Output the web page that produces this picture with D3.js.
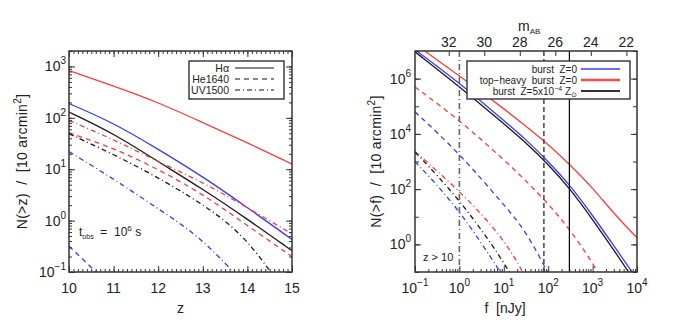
<!DOCTYPE html>
<html>
<head>
<meta charset="utf-8">
<script src="https://cdn.jsdelivr.net/npm/d3@7"></script>
<style>
body { margin: 0; background: #fff; }
svg text { font-family: "Liberation Sans", Arial, sans-serif; fill: #222; white-space: pre; }
</style>
</head>
<body>
<div id="chart"></div>
<script>
// ---- left panel: N(>z) for the three lines ----
var redshifts = [10, 11, 12, 13, 14, 15];
var zHaTop    = [830, 417, 200, 81, 33, 12.6];
var zHaBurst  = [190, 80, 24.5, 7.2, 1.8, 0.43];
var zHaMetal  = [130, 50, 14, 4.1, 1.07, 0.26];
var zHeTop    = [51, 26, 10, 3.3, 0.8, 0.2];
var zHeBurst  = [0.32, 0.047, null, null, null, null];
var zUvTop    = [89, 38, 14, 5.6, 1.8, 0.55];
var zUvMetal  = [49, 19.5, 6.9, 2.1, 0.48, 0.025];
var zUvBurst  = [22, 6.5, 1.7, 0.45, 0.05, null];

// ---- right panel: N(>f) at z > 10 ----
var fluxes    = [0.1, 1, 10, 30, 100, 300, 1000, 3000, 10000];
var fHaTop    = [1.8e7, 1.26e6, 8.3e4, 2.0e4, 4200, 800, 112, 13.2, 1.74];
var fHaBurst  = [1.12e7, 7.1e5, 3.0e4, 6800, 1000, 151, 11.2, 0.89, 0.056];
var fHaMetal  = [9.3e6, 5.2e5, 2.34e4, 5200, 790, 112, 7.9, 0.63, 0.035];
var fHeTop    = [5.0e5, 3.2e4, 1170, 219, 29.5, 3.7, 0.22, 0.01, null];
var fHeBurst  = [6.3e4, 2000, 27, 3.5, 0.09, null, null, null, null];
var fUvTop    = [2300, 89, 1.74, 0.07, null, null, null, null, null];
var fUvMetal  = [2200, 45, 0.25, 0.01, null, null, null, null, null];
var fUvBurst  = [1000, 19.5, 0.063, null, null, null, null, null, null];

var limitFluxes = [1, 80, 300];        // vertical survey limits, nJy
var magTicks = [32, 30, 28, 26, 24, 22];
var magZero = 31.4;                     // m_AB of 1 nJy

var models = {
  burst: { color: '#3a3aff' },
  top:   { color: '#ff3a3a' },
  metal: { color: '#1a1a1a' }
};
var lineDash = { Ha: null, He: '5,4', UV: '5,3,1,3' };

var zSeries = [
  { model: 'top', line: 'Ha', values: zHaTop },
  { model: 'burst', line: 'Ha', values: zHaBurst },
  { model: 'metal', line: 'Ha', values: zHaMetal },
  { model: 'top', line: 'He', values: zHeTop },
  { model: 'burst', line: 'He', values: zHeBurst },
  { model: 'top', line: 'UV', values: zUvTop },
  { model: 'metal', line: 'UV', values: zUvMetal },
  { model: 'burst', line: 'UV', values: zUvBurst }
];
var fSeries = [
  { model: 'top', line: 'He', values: fHeTop },
  { model: 'burst', line: 'He', values: fHeBurst },
  { model: 'top', line: 'UV', values: fUvTop },
  { model: 'metal', line: 'UV', values: fUvMetal },
  { model: 'burst', line: 'UV', values: fUvBurst },
  { model: 'top', line: 'Ha', values: fHaTop },
  { model: 'burst', line: 'Ha', values: fHaBurst },
  { model: 'metal', line: 'Ha', values: fHaMetal }
];

var width = 692, height = 323;
var svg = d3.select('#chart').append('svg')
  .attr('width', width).attr('height', height);

function sup(text, str) {
  var s = str.replace('-', '\u2212');
  text.append('tspan').text('10');
  text.append('tspan').attr('dy', -7).attr('font-size', 10).text(s);
}

// draws inward ticks on one side
function ticks(g, axisFn, scale, vals, size, tx, ty) {
  var a = axisFn(scale).tickValues(vals).tickSizeInner(size).tickSizeOuter(0).tickFormat('');
  var t = g.append('g').attr('transform', 'translate(' + tx + ',' + ty + ')').call(a);
  t.select('.domain').remove();
  t.selectAll('line').attr('stroke', '#333').attr('stroke-width', 1);
}

function panel(box, id) {
  var g = svg.append('g');
  svg.append('clipPath').attr('id', id).append('rect')
    .attr('x', box.x0).attr('y', box.y0)
    .attr('width', box.x1 - box.x0).attr('height', box.y1 - box.y0);
  return g;
}

function frame(g, box) {
  g.append('rect').attr('x', box.x0).attr('y', box.y0)
    .attr('width', box.x1 - box.x0).attr('height', box.y1 - box.y0)
    .attr('fill', 'none').attr('stroke', '#333').attr('stroke-width', 1.5);
}

function drawSeries(g, clip, xs, series, x, y) {
  var line = d3.line()
    .defined(function(d) { return d[1] != null; })
    .x(function(d) { return x(d[0]); })
    .y(function(d) { return y(d[1]); })
    .curve(d3.curveBasis);
  g.append('g').attr('clip-path', 'url(#' + clip + ')')
    .selectAll('path').data(series).enter().append('path')
    .attr('d', function(s) { return line(xs.map(function(v, i) { return [v, s.values[i]]; })); })
    .attr('fill', 'none')
    .attr('stroke', function(s) { return models[s.model].color; })
    .attr('stroke-width', 1.3)
    .attr('stroke-dasharray', function(s) { return lineDash[s.line]; });
}

// ================= left panel =================
var LB = { x0: 69, x1: 292, y0: 51, y1: 272 };
var gL = panel(LB, 'clipL');
var xZ = d3.scaleLinear().domain([10, 15]).range([LB.x0, LB.x1]);
var yZ = d3.scaleLog().domain([0.1, 2000]).range([LB.y1, LB.y0]);

drawSeries(gL, 'clipL', redshifts, zSeries, xZ, yZ);

var zMinor = d3.range(100, 151).map(function(v) { return v / 10; });
var nMinorL = yZ.ticks();
var nMajorL = [0.1, 1, 10, 100, 1000];
ticks(gL, d3.axisBottom, xZ, zMinor, -3, 0, LB.y1);
ticks(gL, d3.axisBottom, xZ, redshifts, -6, 0, LB.y1);
ticks(gL, d3.axisTop, xZ, zMinor, -3, 0, LB.y0);
ticks(gL, d3.axisTop, xZ, redshifts, -6, 0, LB.y0);
ticks(gL, d3.axisLeft, yZ, nMinorL, -3, LB.x0, 0);
ticks(gL, d3.axisLeft, yZ, nMajorL, -6, LB.x0, 0);
ticks(gL, d3.axisRight, yZ, nMinorL, -3, LB.x1, 0);
ticks(gL, d3.axisRight, yZ, nMajorL, -6, LB.x1, 0);
frame(gL, LB);

gL.selectAll('.zlab').data(redshifts).enter().append('text')
  .attr('x', function(d) { return xZ(d); }).attr('y', 293)
  .attr('text-anchor', 'middle').attr('font-size', 14).text(function(d) { return d; });
gL.selectAll('.nlab').data(nMajorL).enter().append('text')
  .attr('x', LB.x0 - 3).attr('y', function(d) { return yZ(d) + 5; })
  .attr('text-anchor', 'end').attr('font-size', 14)
  .each(function(d) { sup(d3.select(this), String(Math.round(Math.log10(d)))); });

gL.append('text').attr('x', xZ(12.5)).attr('y', 313).attr('text-anchor', 'middle')
  .attr('font-size', 14).text('z');
var tl = gL.append('text').attr('transform', 'translate(27,' + ((LB.y0 + LB.y1) / 2) + ') rotate(-90)')
  .attr('text-anchor', 'middle').attr('font-size', 14).attr('letter-spacing', 0.3);
tl.append('tspan').text('N(>z)  /  [10 arcmin');
tl.append('tspan').attr('dy', -6).attr('font-size', 10).text('2');
tl.append('tspan').attr('dy', 6).text(']');

var tobs = gL.append('text').attr('x', 79).attr('y', 236).attr('font-size', 12);
tobs.append('tspan').text('t');
tobs.append('tspan').attr('dy', 3).attr('font-size', 7).text('obs');
tobs.append('tspan').attr('dy', -3).text('  =  10');
tobs.append('tspan').attr('dy', -5).attr('font-size', 8).text('6');
tobs.append('tspan').attr('dy', 5).text(' s');

// legend, line styles
var legL = gL.append('g');
legL.append('rect').attr('x', 189).attr('y', 61).attr('width', 95).attr('height', 38)
  .attr('fill', '#fff').attr('stroke', '#222').attr('stroke-width', 1.3);
var lineNames = [['Ha', 'H\u03b1'], ['He', 'He1640'], ['UV', 'UV1500']];
lineNames.forEach(function(l, i) {
  var yy = 68 + i * 11;
  legL.append('text').attr('x', 229).attr('y', yy + 4).attr('text-anchor', 'end')
    .attr('font-size', 10.5).text(l[1]);
  legL.append('line').attr('x1', 235).attr('x2', 274).attr('y1', yy).attr('y2', yy)
    .attr('stroke', '#111').attr('stroke-width', 1.2)
    .attr('stroke-dasharray', lineDash[l[0]]);
});

// ================= right panel =================
var RB = { x0: 415, x1: 637, y0: 51, y1: 272 };
var gR = panel(RB, 'clipR');
var xF = d3.scaleLog().domain([0.1, 1e4]).range([RB.x0, RB.x1]);
var yF = d3.scaleLog().domain([0.1, 1e7]).range([RB.y1, RB.y0]);
var xM = d3.scaleLinear().domain([magZero + 2.5, magZero - 10]).range([RB.x0, RB.x1]);

drawSeries(gR, 'clipR', fluxes, fSeries, xF, yF);

var limStyle = [
  { dash: '6,3,1,3', color: '#666', w: 1.6 },
  { dash: '5,3', color: '#444', w: 1.5 },
  { dash: null, color: '#000', w: 1.2 }
];
gR.selectAll('.lim').data(limitFluxes).enter().append('line')
  .attr('x1', function(d) { return xF(d); }).attr('x2', function(d) { return xF(d); })
  .attr('y1', RB.y0).attr('y2', RB.y1)
  .attr('stroke', function(d, i) { return limStyle[i].color; })
  .attr('stroke-width', function(d, i) { return limStyle[i].w; })
  .attr('stroke-dasharray', function(d, i) { return limStyle[i].dash; });

var fDecades = [0.1, 1, 10, 100, 1000, 10000];
var fMinor = [];
fDecades.slice(0, 5).forEach(function(d) { for (var k = 2; k < 10; k++) fMinor.push(d * k); });
var nDecR = [0.1, 1, 10, 100, 1e3, 1e4, 1e5, 1e6, 1e7];
var nMajorR = [1, 100, 1e4, 1e6];
ticks(gR, d3.axisBottom, xF, fMinor, -3, 0, RB.y1);
ticks(gR, d3.axisBottom, xF, fDecades, -6, 0, RB.y1);
ticks(gR, d3.axisTop, xM, magTicks, -5, 0, RB.y0);
ticks(gR, d3.axisLeft, yF, nDecR, -4, RB.x0, 0);
ticks(gR, d3.axisLeft, yF, nMajorR, -6, RB.x0, 0);
ticks(gR, d3.axisRight, yF, nDecR, -4, RB.x1, 0);
ticks(gR, d3.axisRight, yF, nMajorR, -6, RB.x1, 0);

// legend, models
var legR = gR.append('g');
legR.append('rect').attr('x', 467).attr('y', 61).attr('width', 163).attr('height', 38)
  .attr('fill', '#fff').attr('stroke', '#222').attr('stroke-width', 1.3);
var legModels = [['burst', 1.5, '#3a3aff'], ['top', 2.6, '#ff4848'], ['metal', 2.2, '#333']];
legModels.forEach(function(m, i) {
  var yy = 69 + i * 11;
  var t = legR.append('text').attr('x', 577).attr('y', yy + 4).attr('text-anchor', 'end')
    .attr('font-size', 10);
  if (m[0] === 'metal') {
    t.append('tspan').text('burst  Z=5x10');
    t.append('tspan').attr('dy', -4).attr('font-size', 7).text('\u22124');
    t.append('tspan').attr('dy', 4).text(' Z');
    t.append('tspan').attr('dy', 2).attr('font-size', 7).text('\u2299');
  } else {
    t.text(m[0] === 'burst' ? 'burst  Z=0' : 'top\u2212heavy  burst  Z=0');
  }
  legR.append('line').attr('x1', 581).attr('x2', 620).attr('y1', yy).attr('y2', yy)
    .attr('stroke', m[2]).attr('stroke-width', m[1]);
});
frame(gR, RB);

gR.selectAll('.flab').data(fDecades).enter().append('text')
  .attr('x', function(d) { return xF(d); }).attr('y', 293)
  .attr('text-anchor', 'middle').attr('font-size', 14)
  .each(function(d) { sup(d3.select(this), String(Math.round(Math.log10(d)))); });
gR.selectAll('.mlab').data(magTicks).enter().append('text')
  .attr('x', function(d) { return xM(d); }).attr('y', 47)
  .attr('text-anchor', 'middle').attr('font-size', 14).text(function(d) { return d; });
gR.selectAll('.nlabR').data(nMajorR).enter().append('text')
  .attr('x', RB.x0 - 4).attr('y', function(d) { return yF(d) + 5; })
  .attr('text-anchor', 'end').attr('font-size', 14)
  .each(function(d) { sup(d3.select(this), String(Math.round(Math.log10(d)))); });

var mab = gR.append('text').attr('x', 518).attr('y', 31).attr('font-size', 14);
mab.append('tspan').text('m');
mab.append('tspan').attr('dy', 3).attr('font-size', 8).text('AB');

gR.append('text').attr('x', 505).attr('y', 313).attr('text-anchor', 'middle')
  .attr('font-size', 14).text('f  [nJy]');
var tr = gR.append('text').attr('transform', 'translate(381,' + ((RB.y0 + RB.y1) / 2) + ') rotate(-90)')
  .attr('text-anchor', 'middle').attr('font-size', 14).attr('letter-spacing', 0.3);
tr.append('tspan').text('N(>f)  /  [10 arcmin');
tr.append('tspan').attr('dy', -6).attr('font-size', 10).text('2');
tr.append('tspan').attr('dy', 6).text(']');

gR.append('text').attr('x', 423).attr('y', 261).attr('font-size', 11).text('z > 10');
</script>
</body>
</html>
